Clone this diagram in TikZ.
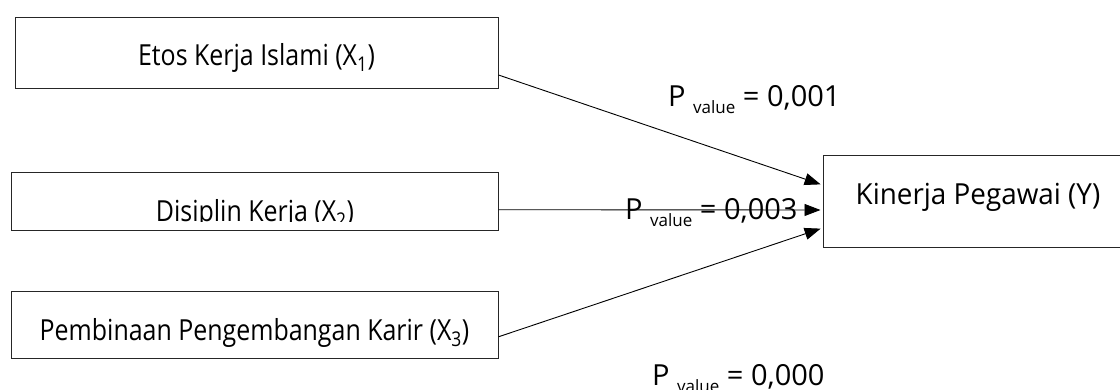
\documentclass[tikz,border=0pt]{standalone}
\usepackage{fontspec}
\setmainfont[FakeStretch=0.86]{Open Sans}
\newfontfamily\plainos{Open Sans}
\newfontfamily\wideos[FakeStretch=0.96]{Open Sans}
\usetikzlibrary{arrows.meta}
\newcommand{\pval}[1]{P \raisebox{-7pt}{\fontsize{17}{20}\selectfont value} = #1}
\tikzset{
  box/.style={draw=black!85, line width=1pt, fill=white, inner sep=0pt, font=\fontsize{29}{34}\selectfont},
  plabel/.style={inner sep=0pt, anchor=base west, font=\plainos\fontsize{29}{34}\selectfont},
  link/.style={draw=black, line width=0.9pt, -{Triangle[length=16pt,width=12pt]}, shorten >=2pt},
}
\begin{document}
\begin{tikzpicture}[x=1pt,y=-1pt]
\clip (0,0) rectangle (1120,389);
\fill[white] (0,0) rectangle (1120,389);
% boxes
\node[box, minimum width=483, minimum height=71, text height=30pt, text depth=3.6pt] (x1) at (256.5,52.5) {Etos Kerja Islami (X\textsubscript{1})};
\node[box, minimum width=487, minimum height=58, text height=40pt, text depth=1.4pt] (x2) at (254.5,201.7) {};
\begin{scope}
  \clip (11,170) rectangle (498,221.5);
  \node[inner sep=0pt, anchor=base, font=\fontsize{29}{34}\selectfont] (x2t) at (255,221) {Disiplin Kerja (X\textsubscript{2})};
\end{scope}
\node[box, minimum width=487, minimum height=67, text height=31pt, text depth=1.6pt] (x3) at (254.5,325.3) {Pembinaan Pengembangan Karir (X\textsubscript{3})};
\node[box, minimum width=310, minimum height=92, text height=18pt, text depth=13.6pt, font=\wideos\fontsize{29}{34}\selectfont] (y) at (978,201.8) {Kinerja Pegawai (Y)};
% connectors
\draw[link] ([yshift=-22.5pt]x1.east) -- ([yshift=16.8pt]y.west);
\draw[link] ([yshift=-8pt]x2.east) -- ([yshift=-8.2pt]y.west);
\draw[link] ([yshift=-11.5pt]x3.east) -- ([yshift=-26.2pt]y.west);
% labels
\node[plabel] (p1) at (668,106.7) {\pval{0,001}};
\node[plabel] (p2) at (625,219) {\pval{0,003}};
\node[plabel] (p3) at (652,385) {\pval{0,000}};
\end{tikzpicture}
\end{document}
